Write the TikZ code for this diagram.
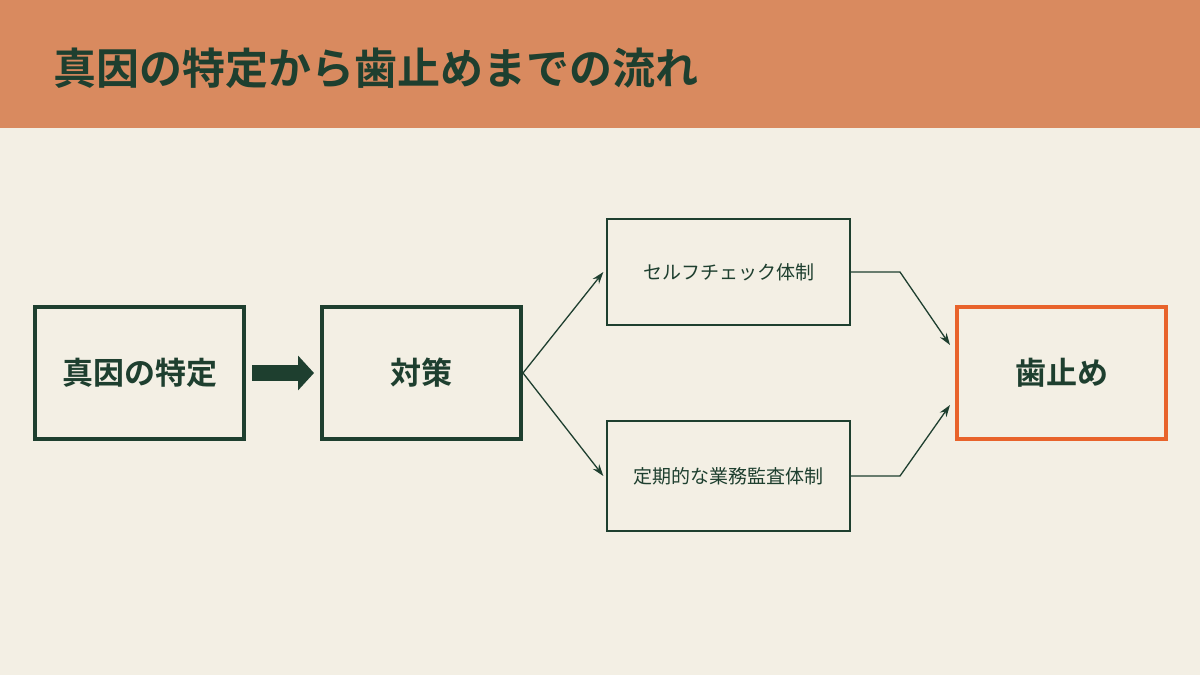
\documentclass[tikz,border=0pt]{standalone}
\usepackage{fontspec}
\setmainfont{Noto Sans CJK JP}[BoldFont={* Bold}]
\usetikzlibrary{arrows.meta}
\definecolor{bg}{HTML}{F3EFE4}
\definecolor{hdr}{HTML}{D98A5F}
\definecolor{dg}{HTML}{1E3F2F}
\definecolor{og}{HTML}{E8632B}
\begin{document}
\begin{tikzpicture}[x=1pt,y=-1pt,
 big/.style={draw=dg,line width=4pt,fill=bg,text=dg,font=\fontsize{31}{34}\selectfont\bfseries,inner sep=0pt},
 small/.style={draw=dg,line width=1.3pt,fill=bg,text=dg,font=\fontsize{19}{22}\selectfont,inner sep=0pt},
 con/.style={draw=dg,line width=1.3pt,-{Stealth[length=12pt,width=8pt]}}]
\fill[bg] (0,0) rectangle (1200,675);
\useasboundingbox (0,0) rectangle (1200,675);
\fill[hdr] (0,0) rectangle (1200,128);
\node[anchor=west,text=dg,font=\fontsize{43}{46}\selectfont\bfseries] (t) at (50,68) {真因の特定から歯止めまでの流れ};
\node[big,minimum width=209pt,minimum height=132pt] (a) at (139.5,373) {真因の特定};
\node[big,minimum width=199pt,minimum height=132pt] (b) at (421.5,373) {対策};
\node[small,minimum width=243pt,minimum height=106pt] (c) at (728.5,272) {セルフチェック体制};
\node[small,minimum width=243pt,minimum height=110pt] (d) at (728.5,476) {定期的な業務監査体制};
\node[big,draw=og,minimum width=209pt,minimum height=132pt] (e) at (1061.5,373) {歯止め};
\draw[dg,line width=16pt,-{Triangle[length=16pt,width=34pt]}] (a.east)++(6,0) -- ([xshift=-6pt]b.west);
\draw[con] (b.east) -- ([xshift=-3pt]c.west);
\draw[con] (b.east) -- ([xshift=-3pt]d.west);
\coordinate (c1) at (900,272);
\coordinate (d1) at (900,476);
\draw[con] (c.east) -- (c1) -- (950,345);
\draw[con] (d.east) -- (d1) -- (950,405);
\end{tikzpicture}
\end{document}
